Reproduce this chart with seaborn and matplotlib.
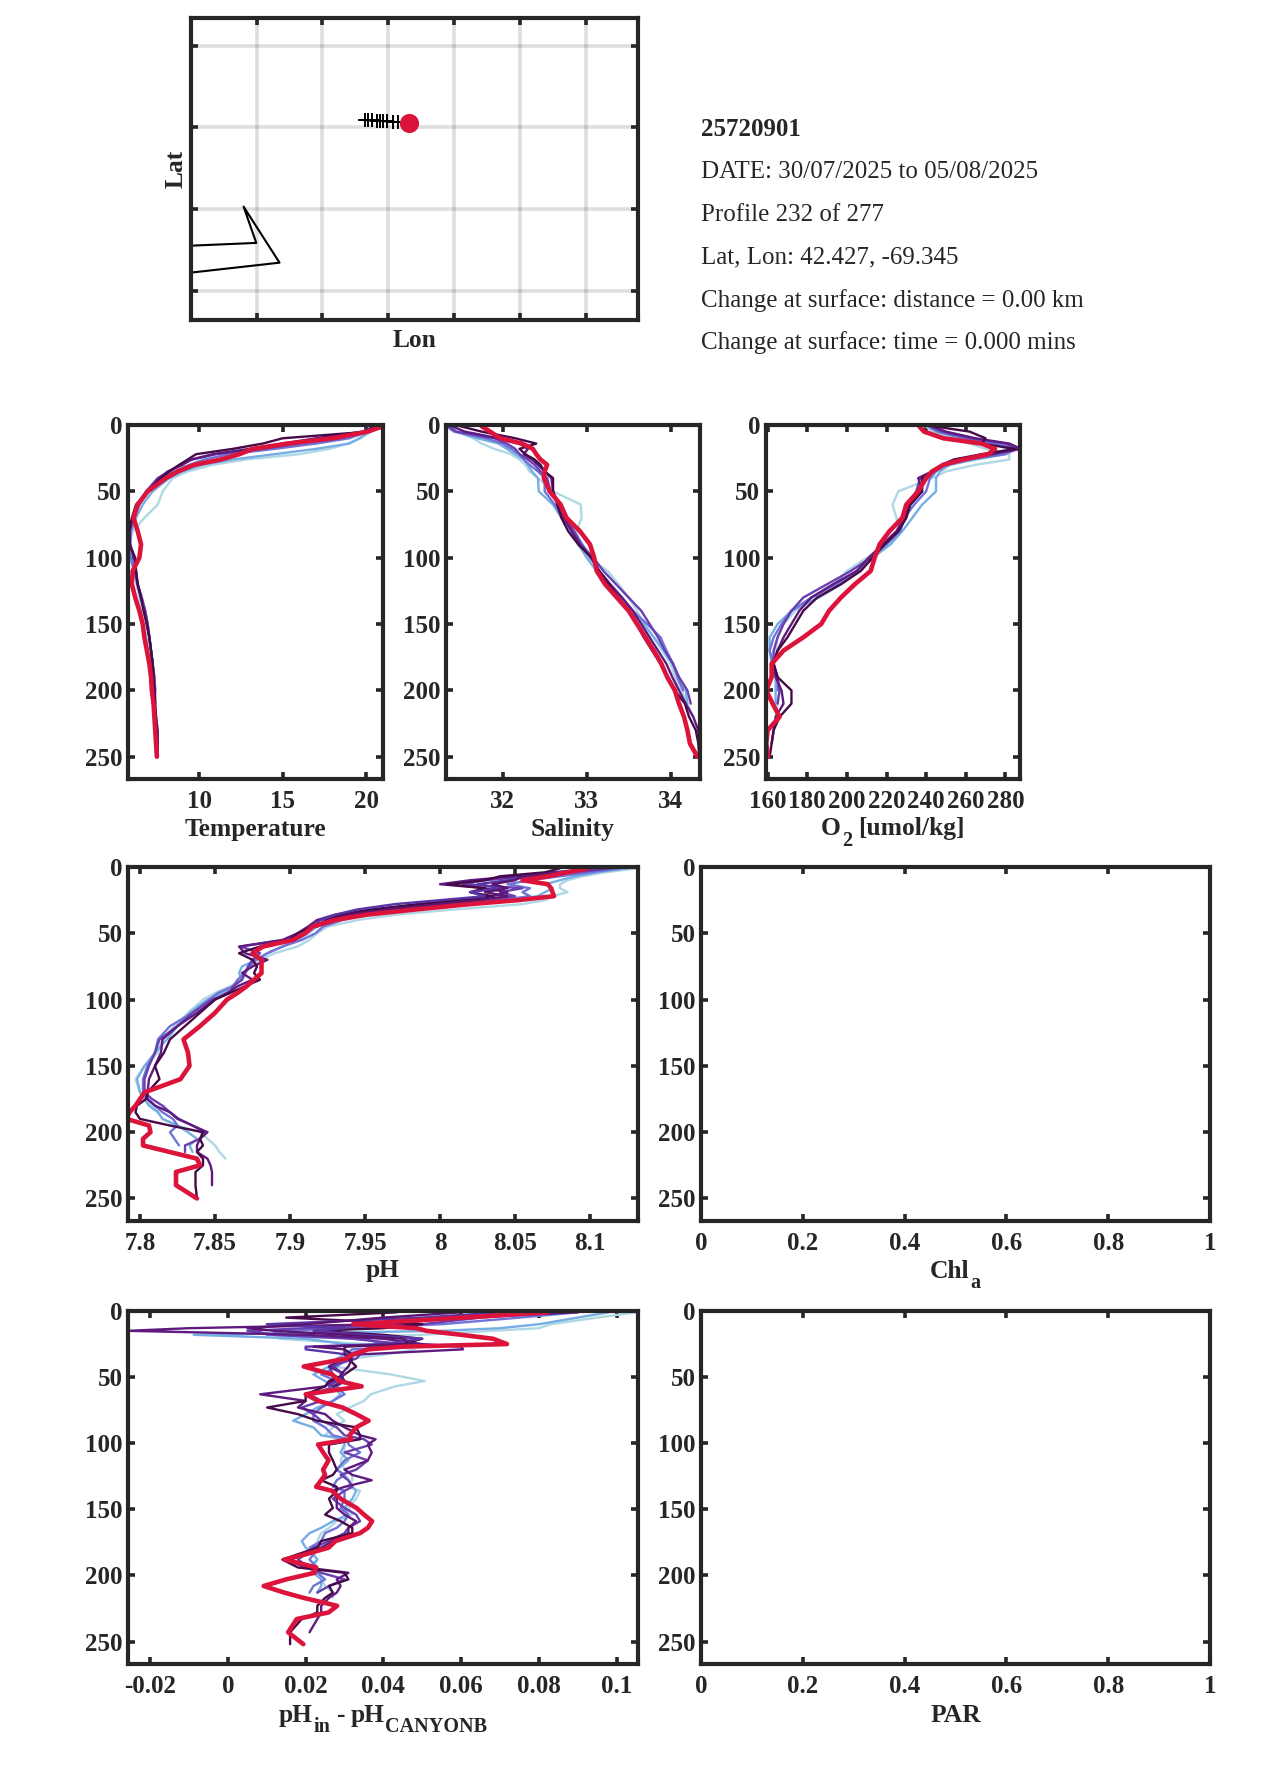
import pandas as pd
import matplotlib
matplotlib.use("Agg")
import matplotlib.pyplot as plt
import seaborn as sns

# float track (map panel)
track_lon = [-69.71, -69.677, -69.652, -69.626, -69.588, -69.563, -69.538, -69.508, -69.467, -69.424, -69.345]
track_lat = [42.445, 42.444, 42.443, 42.442, 42.440, 42.439, 42.437, 42.436, 42.434, 42.432, 42.427]
coast_lon = [-71.0, -70.5025, -70.5985, -70.326, -71.0]
coast_lat = [41.675, 41.692, 41.914, 41.571, 41.51]
map_lon_ticks = [-70.5, -70.0, -69.5, -69.0, -68.5, -68.0]
map_lat_ticks = [41.4, 41.9, 42.4, 42.9]
info_lines = ["25720901", "DATE: 30/07/2025 to 05/08/2025", "Profile 232 of 277",
              "Lat, Lon: 42.427, -69.345", "Change at surface: distance = 0.00 km",
              "Change at surface: time = 0.000 mins"]

profile_names = ["p1", "p2", "p3", "p4", "p5", "p6", "p7", "p8"]
profile_colors = ["#b0d8e4", "#76aee4", "#6f74d6", "#6a3fb0", "#5f1a80", "#470a48", "#5a35a5", "#5a1570"]
current_color = "#dc143c"

# depth levels for temperature, salinity and oxygen
depth_a = [1, 5, 10, 14, 18, 22, 26, 30, 35, 40, 50, 60, 70, 80, 90, 100, 110, 120, 130, 140, 150,
           160, 170, 180, 190, 200, 210, 220, 230, 240, 250]

temp_profiles = [
    [20.9, 20.3, 19.7, 18.9, 17.8, 16.0, 12.8, 10.8, 9.3, 8.4, 7.8, 7.5, 6.7, 6.0, 5.8, 5.8, 6.1, 6.25, 6.4, 6.6, 6.8, 6.9, 7.05, 7.15, 7.25, 7.3, 7.35, 7.4],
    [20.8, 20.2, 19.6, 19.0, 17.0, 14.5, 12.0, 10.2, 9.0, 8.2, 7.2, 6.6, 6.2, 5.9, 5.8, 5.85, 6.1, 6.25, 6.45, 6.7, 6.85, 7.0, 7.1, 7.2, 7.25, 7.3, 7.35],
    [20.7, 20.1, 19.0, 17.0, 14.5, 11.8, 10.3, 9.4, 8.5, 7.6, 6.9, 6.4, 6.1, 5.9, 5.85, 5.9, 6.1, 6.3, 6.5, 6.75, 6.9, 7.0, 7.1, 7.2, 7.3, 7.35],
    [20.6, 19.9, 18.5, 16.0, 13.8, 11.0, 9.6, 8.8, 8.2, 7.5, 6.8, 6.3, 6.0, 5.8, 5.8, 6.1, 6.15, 6.3, 6.55, 6.75, 6.9, 7.0, 7.1, 7.2, 7.3, 7.35, 7.35],
    [20.5, 19.8, 17.0, 15.0, 13.0, 10.8, 9.5, 9.0, 8.1, 7.6, 6.9, 6.3, 6.0, 5.8, 5.85, 6.1, 6.2, 6.3, 6.5, 6.7, 6.85, 7.0, 7.1, 7.2, 7.25, 7.3, 7.3, 7.4, 7.5, 7.5],
    [20.4, 20.2, 15.0, 13.8, 12.0, 9.8, 9.3, 8.8, 8.2, 7.7, 6.9, 6.2, 5.95, 5.8, 5.8, 6.15, 6.2, 6.3, 6.5, 6.65, 6.85, 7.0, 7.1, 7.2, 7.25, 7.3, 7.35, 7.4, 7.45, 7.5, 7.5],
]
temp_current = [21.0, 20.1, 18.0, 15.3, 13.2, 12.4, 11.3, 9.7, 8.7, 8.0, 6.9, 6.3, 6.05, 6.3, 6.5, 6.4, 6.0, 5.95, 6.15, 6.4, 6.6, 6.7, 6.85, 7.0, 7.1, 7.15, 7.25, 7.3, 7.35, 7.4, 7.45]

sal_profiles = [
    [31.35, 31.45, 31.65, 31.75, 31.9, 32.1, 32.2, 32.27, 32.32, 32.42, 32.6, 32.93, 32.94, 32.88, 32.92, 33.02, 33.25, 33.38, 33.5, 33.6, 33.68, 33.8, 33.9, 34.0, 34.05, 34.13, 34.2, 34.27],
    [31.35, 31.45, 31.7, 31.95, 32.05, 32.15, 32.25, 32.3, 32.35, 32.42, 32.43, 32.6, 32.7, 32.82, 32.9, 33.0, 33.12, 33.22, 33.35, 33.5, 33.68, 33.8, 33.92, 34.02, 34.1, 34.18, 34.2],
    [31.33, 31.42, 31.8, 32.0, 32.1, 32.2, 32.25, 32.32, 32.42, 32.5, 32.5, 32.62, 32.72, 32.85, 32.95, 33.05, 33.15, 33.28, 33.42, 33.55, 33.72, 33.88, 33.95, 34.03, 34.08, 34.15],
    [31.35, 31.45, 31.9, 32.05, 32.15, 32.2, 32.3, 32.38, 32.45, 32.53, 32.57, 32.68, 32.75, 32.85, 32.93, 33.08, 33.2, 33.35, 33.5, 33.65, 33.75, 33.85, 33.93, 34.03, 34.1, 34.2, 34.24],
    [31.4, 31.55, 31.95, 32.2, 32.3, 32.25, 32.35, 32.42, 32.5, 32.58, 32.6, 32.67, 32.73, 32.82, 32.92, 33.05, 33.15, 33.28, 33.42, 33.55, 33.65, 33.75, 33.85, 33.95, 34.02, 34.1, 34.18, 34.27, 34.33, 34.33],
    [31.5, 31.75, 32.15, 32.4, 32.2, 32.27, 32.38, 32.45, 32.5, 32.6, 32.6, 32.65, 32.7, 32.78, 32.9, 33.06, 33.15, 33.26, 33.38, 33.5, 33.6, 33.68, 33.78, 33.88, 33.97, 34.05, 34.17, 34.22, 34.3, 34.33, 34.34],
]
sal_current = [31.75, 31.85, 31.97, 32.23, 32.36, 32.4, 32.45, 32.53, 32.5, 32.49, 32.56, 32.69, 32.76, 32.92, 33.04, 33.09, 33.12, 33.22, 33.36, 33.5, 33.6, 33.7, 33.8, 33.89, 33.96, 34.05, 34.1, 34.16, 34.2, 34.23, 34.32]

oxy_profiles = [
    [240, 243, 254, 262, 270, 282, 282, 265, 250, 243, 226, 223, 225, 226, 222, 210, 200, 194, 183, 174, 168, 165, 164, 163, 165, 166, 165, 164],
    [241, 245, 258, 272, 282, 280, 265, 252, 247, 245, 245, 238, 233, 228, 222, 213, 206, 197, 186, 172, 165, 161, 161, 162, 164, 164, 164],
    [241, 246, 260, 275, 286, 280, 262, 250, 245, 242, 240, 234, 229, 227, 220, 212, 205, 195, 182, 172, 167, 163, 161, 163, 165, 165],
    [242, 248, 262, 280, 287, 275, 258, 248, 243, 237, 235, 231, 229, 226, 219, 212, 202, 190, 178, 172, 168, 165, 163, 163, 165, 166, 165],
    [243, 250, 265, 282, 288, 272, 255, 248, 243, 236, 238, 232, 229, 225, 218, 211, 205, 193, 182, 176, 172, 168, 165, 163, 164, 167, 168, 164, 163, 162],
    [244, 262, 270, 268, 285, 268, 254, 248, 243, 238, 238, 232, 230, 226, 219, 213, 207, 197, 185, 178, 174, 170, 165, 163, 165, 172, 172, 166, 163, 162, 161],
]
oxy_current = [236.5, 239, 248.7, 268, 274.8, 271.4, 258.8, 248.7, 243, 240, 236, 230, 228, 221.5, 216.5, 214, 212, 204, 197, 191, 187, 178, 168, 162, 162, 159.3, 162.5, 166, 160, 159.3, 160.2]

# pH levels
depth_ph = [1, 4, 7, 10, 13, 16, 19, 22, 25, 28, 32, 36, 40, 45, 50, 55, 60, 65, 70, 75, 80, 85, 90, 95, 100,
            110, 120, 130, 140, 150, 160, 170, 175, 180, 185, 190, 195, 200, 205, 210, 215, 220, 225, 230, 240, 250]

ph_profiles = [
    [8.132, 8.11, 8.095, 8.085, 8.08, 8.08, 8.085, 8.075, 8.07, 8.055, 8.01, 7.97, 7.945, 7.925, 7.918, 7.913, 7.905, 7.89, 7.88, 7.873, 7.87, 7.868, 7.86, 7.85, 7.842, 7.832, 7.823, 7.815, 7.812, 7.803, 7.797, 7.8, 7.803, 7.808, 7.812, 7.815, 7.825, 7.84, 7.845, 7.85, 7.853, 7.857],
    [8.125, 8.105, 8.09, 8.08, 8.07, 8.075, 8.07, 8.065, 8.045, 8.015, 7.975, 7.94, 7.925, 7.918, 7.912, 7.905, 7.895, 7.885, 7.878, 7.868, 7.866, 7.868, 7.862, 7.855, 7.845, 7.833, 7.825, 7.818, 7.81, 7.803, 7.798, 7.8, 7.803, 7.806, 7.812, 7.815, 7.825, 7.832, 7.838, 7.833, 7.835],
    [8.12, 8.1, 8.08, 8.06, 8.045, 8.06, 8.055, 8.06, 8.04, 8.01, 7.975, 7.95, 7.935, 7.922, 7.917, 7.908, 7.895, 7.885, 7.877, 7.873, 7.87, 7.865, 7.862, 7.852, 7.846, 7.835, 7.82, 7.812, 7.81, 7.805, 7.802, 7.802, 7.805, 7.81, 7.815, 7.822, 7.825, 7.82, 7.823, 7.826],
    [8.115, 8.09, 8.06, 8.03, 8.015, 8.055, 8.04, 8.05, 8.035, 8.0, 7.96, 7.935, 7.92, 7.915, 7.91, 7.897, 7.867, 7.88, 7.875, 7.872, 7.87, 7.868, 7.862, 7.86, 7.848, 7.835, 7.825, 7.813, 7.81, 7.806, 7.803, 7.803, 7.808, 7.815, 7.82, 7.826, 7.835, 7.843, 7.84, 7.83, 7.83],
    [8.105, 8.075, 8.05, 8.02, 8.0, 8.03, 8.045, 8.035, 8.02, 7.99, 7.955, 7.93, 7.918, 7.912, 7.905, 7.895, 7.866, 7.87, 7.885, 7.875, 7.868, 7.875, 7.865, 7.858, 7.85, 7.838, 7.825, 7.815, 7.814, 7.81, 7.806, 7.805, 7.805, 7.81, 7.82, 7.825, 7.835, 7.845, 7.84, 7.838, 7.838, 7.845, 7.847, 7.848, 7.848],
    [8.08, 8.07, 8.04, 8.03, 8.005, 8.03, 8.02, 8.035, 8.01, 7.985, 7.955, 7.935, 7.925, 7.915, 7.905, 7.9, 7.88, 7.866, 7.875, 7.878, 7.876, 7.88, 7.87, 7.86, 7.85, 7.84, 7.83, 7.82, 7.816, 7.81, 7.813, 7.805, 7.804, 7.798, 7.797, 7.8, 7.82, 7.842, 7.84, 7.842, 7.838, 7.842, 7.842, 7.837, 7.837, 7.838],
    [8.11, 8.08, 8.06, 8.045, 8.025, 8.04, 8.02, 8.03, 8.0, 7.97, 7.945, 7.93, 7.92, 7.916],
    [8.10, 8.085, 8.055, 8.05, 8.035, 8.045, 8.03, 8.045, 8.025, 8.0, 7.965, 7.94, 7.926, 7.918],
]
ph_current = [8.099, 8.085, 8.072, 8.055, 8.072, 8.074, 8.075, 8.076, 8.052, 8.02, 7.984, 7.951, 7.93, 7.915, 7.91, 7.902, 7.882, 7.875, 7.881, 7.881, 7.881, 7.876, 7.871, 7.865, 7.858, 7.85, 7.84, 7.829, 7.832, 7.833, 7.827, 7.803, 7.8, 7.797, 7.793, 7.791, 7.806, 7.807, 7.802, 7.802, 7.82, 7.838, 7.84, 7.824, 7.824, 7.838]

# pH minus CANYONB levels
depth_diff = [1, 5, 10, 13, 15, 18, 21, 25, 27, 29, 33, 36, 42, 48, 53, 57, 63, 68, 73, 78, 83, 88, 94, 97, 101,
              107, 113, 120, 124, 128, 133, 136, 142, 149, 154, 159, 164, 168, 174, 179, 184, 188, 194, 198, 203,
              208, 213, 217, 223, 228, 233, 243, 252]

diff_profiles = [
    [.105, .095, .083, .080, .068, .05, .0132, .035, .048, .048, .04, .032, .027, .042, .0506, .043, .0367, .035, .0313, .028, .03, .027, .025, .03, .03, .03, .029, .03, .032, .032, .031, .034, .033, .031, .032, .028, .026, .024, .023, .024, .022, .023, .022, .024, .024, .025, .027, .027],
    [.098, .09, .08, .07, .055, -.0088, .02, .03, .04, .035, .03, .028, .026, .022, .025, .027, .029, .027, .023, .02, .0168, .022, .024, .03, .03, .029, .031, .028, .03, .031, .032, .033, .032, .03, .031, .027, .024, .021, .019, .02, .022, .023, .021, .022, .024, .024, .023],
    [.09, .075, .055, .03, .015, .01, .035, .04, .045, .032, .03, .031, .028, .024, .028, .028, .03, .027, .024, .022, .022, .025, .027, .031, .031, .034, .03, .028, .03, .028, .027, .03, .03, .029, .031, .03, .028, .025, .024, .021, .022, .021, .023, .023, .025, .022, .021],
    [.085, .065, .05, .02, .005, .012, .032, .045, .04, .035, .034, .033, .026, .027, .03, .028, .021, .024, .019, .022, .024, .028, .03, .035, .037, .03, .036, .033, .029, .031, .032, .03, .027, .03, .033, .034, .031, .03, .026, .022, .02, .018, .021, .024, .03, .026, .023],
    [.09, .06, .04, -.01, -.0257, .02, .04, .05, .06, .0605, .033, .03, .026, .03, .027, .025, .0083, .02, .018, .025, .027, .03, .034, .038, .036, .037, .036, .03, .032, .037, .03, .027, .028, .028, .03, .033, .031, .031, .027, .024, .019, .015, .02, .031, .028, .029, .028, .026, .024, .024, .023, .021],
    [.0434, .015, .05, .04, .0223, .04, .05, .045, .03, .03, .032, .031, .033, .03, .026, .025, .02, .02, .0101, .018, .023, .033, .034, .034, .026, .026, .027, .028, .027, .024, .028, .028, .026, .027, .025, .029, .032, .032, .024, .023, .018, .014, .018, .03, .031, .026, .027, .025, .023, .023, .019, .016, .016],
    [.07, .05, .01, .03, .022, .035, .05, .04, .02, .02, .031, .03, .027, .03, .028, .026],
    [.06, .04, .02, .005, .012, .03, .045, .048, .022, .03, .03, .032, .031, .029, .03, .027],
]
diff_current = [.0822, .0605, .0322, .0484, .0511, .060, .0682, .0718, .0448, .0362, .032, .0304, .0195, .0268, .0286, .0344, .020, .0232, .0295, .033, .0362, .033, .0313, .0317, .0232, .0245, .0259, .0245, .025, .024, .0227, .0268, .029, .0331, .035, .0371, .036, .034, .0277, .0259, .020, .0146, .0227, .0223, .015, .0092, .0145, .0195, .0281, .0259, .0177, .0155, .0194]

# axis limits and tick labels
depth_ticks = [0, 50, 100, 150, 200, 250]
depth_max = 267
temp_ticks, temp_labels = [10, 15, 20], ["10", "15", "20"]
sal_ticks, sal_labels = [32, 33, 34], ["32", "33", "34"]
oxy_ticks = [160, 180, 200, 220, 240, 260, 280]
oxy_labels = ["160", "180", "200", "220", "240", "260", "280"]
ph_ticks = [7.8, 7.85, 7.9, 7.95, 8.0, 8.05, 8.1]
ph_labels = ["7.8", "7.85", "7.9", "7.95", "8", "8.05", "8.1"]
diff_ticks = [-0.02, 0, 0.02, 0.04, 0.06, 0.08, 0.1]
diff_labels = ["-0.02", "0", "0.02", "0.04", "0.06", "0.08", "0.1"]
unit_ticks = [0, 0.2, 0.4, 0.6, 0.8, 1]
unit_labels = ["0", "0.2", "0.4", "0.6", "0.8", "1"]

sns.set_style("white")
plt.rcParams["font.family"] = ["Liberation Serif", "DejaVu Serif"]

W, H = 1275, 1771
INK = "#262626"
fig = plt.figure(figsize=(W / 100, H / 100), dpi=100)
renderer = fig.canvas.get_renderer()


def new_axes(left, top, right, bottom):
    ax = fig.add_axes([left / W, 1 - bottom / H, (right - left) / W, (bottom - top) / H])
    for side in ax.spines.values():
        side.set_linewidth(3.0)
        side.set_color(INK)
    ax.tick_params(direction="in", bottom=True, left=True, top=True, right=True, length=5, width=2.6,
                   color=INK, labelcolor=INK, labelsize=18)
    ax.tick_params(axis="x", pad=7.6)
    ax.tick_params(axis="y", pad=4)
    return ax


def sub_label(center_x, baseline_y, runs):
    # label with big subscripts, one text per run: (string, is_sub, gap before in px)
    pieces = []
    total = 0
    for txt, is_sub, gap in runs:
        t = fig.text(0, 0, txt, fontsize=14.5 if is_sub else 18.4, fontweight="bold", color=INK,
                     ha="left", va="baseline")
        width = t.get_window_extent(renderer).width
        pieces.append((t, is_sub, gap, width))
        total += gap + width
    x = center_x - total / 2
    for t, is_sub, gap, width in pieces:
        x += gap
        y = baseline_y + (10.5 if is_sub else 0)
        t.set_position((x / W, 1 - y / H))
        x += width


def profile_panel(pos, depth, profiles, current, xlim, ticks, labels, xlabel):
    ax = new_axes(*pos)
    rows = []
    for name, vals in zip(profile_names, profiles):
        for d, v in zip(depth, vals):
            rows.append({"profile": name, "depth": d, "value": v})
    df = pd.DataFrame(rows)
    sns.lineplot(data=df, x="value", y="depth", hue="profile", hue_order=profile_names,
                 palette=profile_colors, sort=False, estimator=None, linewidth=1.7, legend=False, ax=ax)
    cur = pd.DataFrame({"depth": depth[:len(current)], "value": current})
    sns.lineplot(data=cur, x="value", y="depth", color=current_color, sort=False, estimator=None,
                 linewidth=3.3, ax=ax)
    finish_panel(ax, xlim, ticks, labels, xlabel)
    return ax


def finish_panel(ax, xlim, ticks, labels, xlabel, pad=3.5):
    ax.set_xlim(*xlim)
    ax.set_ylim(depth_max, 0)
    ax.set_xticks(ticks)
    ax.set_xticklabels(labels, fontweight="bold")
    ax.set_yticks(depth_ticks)
    ax.set_yticklabels([str(t) for t in depth_ticks], fontweight="bold")
    ax.set_xlabel(xlabel, fontsize=18.4, fontweight="bold", color=INK, labelpad=pad)
    ax.set_ylabel("")


# map panel
ax_map = new_axes(190.7, 17.7, 638, 320)
track = pd.DataFrame({"lon": track_lon[:-1], "lat": track_lat[:-1]})
coast = pd.DataFrame({"lon": coast_lon, "lat": coast_lat})
sns.lineplot(data=coast, x="lon", y="lat", color="black", sort=False, estimator=None, linewidth=1.5, ax=ax_map)
sns.lineplot(data=track, x="lon", y="lat", color="black", sort=False, estimator=None, linewidth=1.5,
             marker="+", markevery=(1, 1), markersize=10, markeredgewidth=1.4, markeredgecolor="black", ax=ax_map)
sns.scatterplot(x=track_lon[-1:], y=track_lat[-1:], color=current_color, s=190, linewidth=0, zorder=5, ax=ax_map)
ax_map.set_xlim(-71.0, -67.606)
ax_map.set_ylim(41.22, 43.071)
ax_map.set_xticks(map_lon_ticks)
ax_map.set_yticks(map_lat_ticks)
ax_map.set_xticklabels([])
ax_map.set_yticklabels([])
ax_map.grid(True, color="black", alpha=0.13, linewidth=2.6)
ax_map.set_axisbelow(True)
ax_map.set_xlabel("Lon", fontsize=18.4, fontweight="bold", color=INK, labelpad=-1)
ax_map.set_ylabel("Lat", fontsize=18.4, fontweight="bold", color=INK, labelpad=-1.5)

# info block
for i, line in enumerate(info_lines):
    fig.text(701 / W, 1 - (129.5 + i * 42.7) / H, line, fontsize=18, color=INK, va="center", ha="left",
             fontweight="bold" if i == 0 else "normal")

# profile panels
profile_panel((127.7, 425, 382.7, 779.3), depth_a, temp_profiles, temp_current, (5.7, 21.0), temp_ticks, temp_labels, "Temperature")
profile_panel((446, 425, 700, 779.3), depth_a, sal_profiles, sal_current, (31.325, 34.35), sal_ticks, sal_labels, "Salinity")
profile_panel((765.7, 425, 1020, 779.3), depth_a, oxy_profiles, oxy_current, (159, 287.4), oxy_ticks, oxy_labels, "")
sub_label(893, 835, [("O", False, 0), ("2", True, 1), ("[umol/kg]", False, 6)])
profile_panel((128, 867, 638, 1221), depth_ph, ph_profiles, ph_current, (7.792, 8.132), ph_ticks, ph_labels, "pH")
profile_panel((128, 1311, 638, 1664), depth_diff, diff_profiles, diff_current, (-0.0257, 0.1055), diff_ticks, diff_labels, "")
sub_label(383, 1722, [("pH", False, 0), ("in", True, 1), ("-", False, 6), ("pH", False, 6), ("CANYONB", True, 1)])

ax_chl = new_axes(701, 867, 1210, 1221)
finish_panel(ax_chl, (0, 1), unit_ticks, unit_labels, "")
sub_label(955, 1278, [("Chl", False, 0), ("a", True, 1)])
ax_par = new_axes(701, 1311, 1210, 1664)
finish_panel(ax_par, (0, 1), unit_ticks, unit_labels, "PAR", pad=5)

fig.savefig("out.png", dpi=100, facecolor="white")
